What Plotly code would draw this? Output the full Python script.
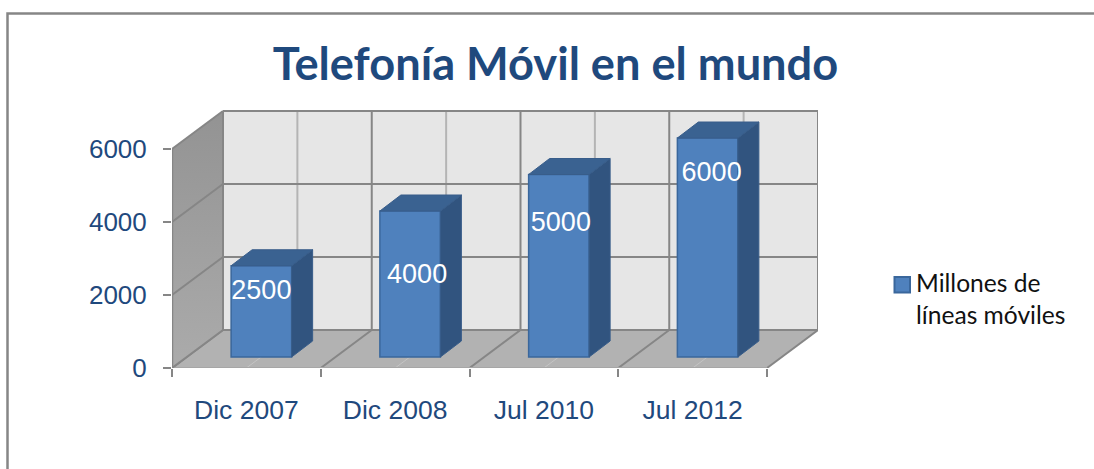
import plotly.graph_objects as go

# ---- data ----
categories = ["Dic 2007", "Dic 2008", "Jul 2010", "Jul 2012"]
values = [2500, 4000, 5000, 6000]
y_ticks = [0, 2000, 4000, 6000]
title = "Telefonía Móvil en el mundo"
series_name = "Millones de<br>líneas móviles"

# ---- 3D projection settings (pixels on the page) ----
W, H = 1094, 469
L, T, R, B = 172, 110, 818, 368      # plot box
SLOT_PX = 148.75                     # one category
PX_PER_UNIT = 0.0365                 # vertical px per value unit
WALL_DX_PX, WALL_DY_PX = 51, 38      # chart-box depth
BAR_DX_PX, BAR_DY_PX = 15, 11        # bar offset from the front edge
BAR_W_PX = 60.5
TOP_DX_PX, TOP_DY_PX = 21, 16        # bar depth
LABEL_DROP_PX = [26, 65, 50, 36]     # label centre under bar top
LABEL_SHIFT_PX = [0, 7, 2, 4]

FONT = "Liberation Sans"
TEXT = "#1F497D"
LINE = "#868686"
LIGHT = "#B4B4B4"

ux = lambda px: px / SLOT_PX
uy = lambda px: px / PX_PER_UNIT
WDX, WDY = ux(WALL_DX_PX), uy(WALL_DY_PX)
n = len(categories)
xmax, ymax = n + WDX, uy(B - T)
px_x = lambda px: (px - L) / (R - L)
px_y = lambda px: (B - px) / (B - T)

fig = go.Figure()
shapes = []


def poly(xs, ys, fill):
    path = "M" + "L".join(f"{x},{y}" for x, y in zip(xs, ys)) + "Z"
    return dict(type="path", path=path, xref="x", yref="y", fillcolor=fill,
                line=dict(width=0), layer="below")


def seg(x0, y0, x1, y1, color=LINE, width=2, layer="below"):
    return dict(type="line", x0=x0, y0=y0, x1=x1, y1=y1, xref="x", yref="y",
                line=dict(color=color, width=width), layer=layer)


# back wall and floor
shapes.append(poly([WDX, xmax, xmax, WDX], [WDY, WDY, WDY + y_ticks[-1], WDY + y_ticks[-1]], "#E6E6E6"))
shapes.append(poly([0, n, xmax, WDX], [0, 0, WDY, WDY], "#B2B2B2"))

# back wall grid
for i in range(2 * n + 1):
    x = WDX + i * 0.5
    shapes.append(seg(x, WDY, x, WDY + y_ticks[-1], LINE if i % 2 == 0 else LIGHT))
for v in y_ticks:
    shapes.append(seg(WDX, WDY + v, xmax, WDY + v, LINE))
# floor grid
for i in range(2 * n + 1):
    x = i * 0.5
    shapes.append(seg(x, 0, x + WDX, WDY, LINE if i % 2 == 0 else "#C4C4C4", 2 if i % 2 == 0 else 1))
shapes.append(seg(0, 0, n, 0, "#A6A6A6"))

# frame around the chart (open to the right and bottom edges of the page)
shapes.append(dict(type="path", xref="paper", yref="paper", layer="below",
                   path=f"M{px_x(7.5)},{px_y(H + 2)}L{px_x(7.5)},{px_y(13.5)}L{px_x(W + 2)},{px_y(13.5)}",
                   line=dict(color=LINE, width=2.5)))

# legend key
shapes.append(dict(type="rect", xref="paper", yref="paper", layer="above",
                   x0=px_x(894.5), x1=px_x(910), y0=px_y(292.5), y1=px_y(277),
                   fillcolor="#4F81BD", line=dict(color="#3A679C", width=2)))

# left wall with its gradient and grid lines
fig.add_trace(go.Scatter(
    x=[0, WDX, WDX, 0, 0], y=[0, WDY, WDY + y_ticks[-1], y_ticks[-1], 0],
    mode="lines", line=dict(width=0), fill="toself",
    fillgradient=dict(type="vertical", colorscale=[[0, "#ABABAB"], [1, "#939393"]]),
    showlegend=False, hoverinfo="skip"))
for v in y_ticks:
    fig.add_trace(go.Scatter(x=[0, WDX], y=[v, v + WDY], mode="lines",
                             line=dict(color=LINE, width=2), showlegend=False, hoverinfo="skip"))
fig.add_trace(go.Scatter(x=[0, 0], y=[0, y_ticks[-1]], mode="lines",
                         line=dict(color=LINE, width=2.5), showlegend=False, hoverinfo="skip"))
fig.add_trace(go.Scatter(x=[WDX, WDX], y=[WDY, WDY + y_ticks[-1]], mode="lines",
                         line=dict(color=LINE, width=2), showlegend=False, hoverinfo="skip"))

# bars: front faces
bar_x = [i + 0.5 + ux(BAR_DX_PX) for i in range(n)]
bar_w = ux(BAR_W_PX)
base = uy(BAR_DY_PX)
fig.add_trace(go.Bar(
    x=bar_x, y=values, base=base, width=bar_w, name=series_name.replace("<br>", " "),
    marker=dict(color="#4F81BD", line=dict(color="#3A679C", width=1.5)),
    showlegend=False, hoverinfo="skip"))

# bars: side and top faces
tdx, tdy = ux(TOP_DX_PX), uy(TOP_DY_PX)
for cx, v in zip(bar_x, values):
    x0, x1 = cx - bar_w / 2, cx + bar_w / 2
    y0, y1 = base, base + v
    fig.add_trace(go.Scatter(
        x=[x1, x1 + tdx, x1 + tdx, x1, x1], y=[y0, y0 + tdy, y1 + tdy, y1, y0],
        mode="lines", fill="toself", fillcolor="#31547F", line=dict(color="#385D8A", width=1),
        showlegend=False, hoverinfo="skip"))
    fig.add_trace(go.Scatter(
        x=[x0, x1, x1 + tdx, x0 + tdx, x0], y=[y1, y1, y1 + tdy, y1 + tdy, y1],
        mode="lines", fill="toself", fillcolor="#3A6291", line=dict(color="#385D8A", width=1),
        showlegend=False, hoverinfo="skip"))

# data labels
fig.add_trace(go.Scatter(
    x=[c + ux(s) for c, s in zip(bar_x, LABEL_SHIFT_PX)],
    y=[base + v - uy(d) for v, d in zip(values, LABEL_DROP_PX)],
    mode="text", text=[str(v) for v in values], textposition="middle center",
    textfont=dict(family=FONT, size=27, color="white"),
    showlegend=False, hoverinfo="skip"))

fig.update_layout(
    width=W, height=H, autosize=False,
    margin=dict(l=L, r=W - R, t=T, b=H - B, pad=0),
    paper_bgcolor="white", plot_bgcolor="rgba(0,0,0,0)",
    shapes=shapes, barmode="overlay", showlegend=False,
    title=dict(text=f"<b>{title}</b>", x=555.5 / W, xanchor="center", xref="container",
               y=1 - 64.5 / H, yanchor="middle", yref="container",
               font=dict(family="Lato", size=45.2, color=TEXT)),
    annotations=[dict(text=series_name, xref="paper", yref="paper", x=px_x(915), y=px_y(266),
                      xanchor="left", yanchor="top", align="left", showarrow=False,
                      xshift=-1, font=dict(family="Lato", size=24.6, color="#111111"))],
    xaxis=dict(range=[0, xmax], showgrid=False, zeroline=False, showline=False,
               tickmode="array", tickvals=[i + 0.5 for i in range(n)], ticktext=categories,
               ticks="", ticklabelstandoff=23,
               tickfont=dict(family=FONT, size=26.5, color=TEXT),
               minor=dict(tickmode="linear", tick0=0, dtick=1, ticks="outside", ticklen=8,
                          tickwidth=2, tickcolor=LINE, showgrid=False)),
    yaxis=dict(range=[0, ymax], showgrid=False, zeroline=False, showline=False,
               tickmode="array", tickvals=y_ticks, ticks="outside", ticklen=8, tickwidth=2,
               ticklabelstandoff=11,
               tickcolor=LINE, tickfont=dict(family=FONT, size=26, color=TEXT)),
)

fig.write_html("out.html", config=dict(displayModeBar=False),
               post_script="document.body.style.margin='0';")
